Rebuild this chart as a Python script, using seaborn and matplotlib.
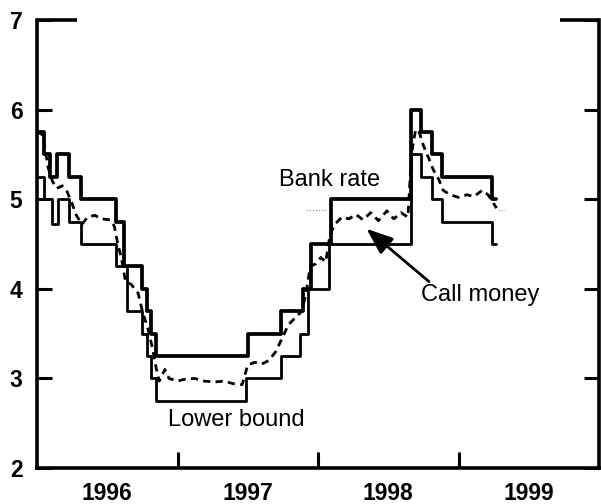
import numpy as np
import pandas as pd
import seaborn as sns
import matplotlib
matplotlib.use("Agg")
import matplotlib.pyplot as plt

# ---------------- data ----------------
# Bank rate (upper bound of corridor), step changes: (date as decimal year, level)
bank_dates = [1996.00, 1996.05, 1996.09, 1996.14, 1996.23, 1996.31, 1996.56, 1996.62,
              1996.75, 1996.78, 1996.81, 1996.85, 1997.50, 1997.74, 1997.89, 1997.95,
              1998.09, 1998.66, 1998.73, 1998.81, 1998.88, 1999.24, 1999.27]
bank_rate = [5.75, 5.50, 5.25, 5.50, 5.25, 5.00, 4.75, 4.25,
             4.00, 3.75, 3.50, 3.25, 3.50, 3.75, 4.00, 4.50,
             5.00, 6.00, 5.75, 5.50, 5.25, 5.00, 5.00]

# Lower bound of corridor
lower_dates = [1996.00, 1996.05, 1996.11, 1996.15, 1996.23, 1996.31, 1996.56, 1996.64,
               1996.75, 1996.78, 1996.81, 1996.85, 1997.49, 1997.74, 1997.87, 1997.93,
               1998.08, 1998.66, 1998.73, 1998.81, 1998.88, 1999.24, 1999.27]
lower_bound = [5.25, 5.00, 4.72, 5.00, 4.75, 4.50, 4.25, 3.75,
               3.50, 3.25, 3.00, 2.75, 3.00, 3.25, 3.50, 4.00,
               4.50, 5.50, 5.25, 5.00, 4.75, 4.50, 4.50]

# Call money rate
call_dates = [1996.00, 1996.04, 1996.08, 1996.11, 1996.14, 1996.18, 1996.21, 1996.25,
              1996.28, 1996.32, 1996.36, 1996.41, 1996.46, 1996.52, 1996.55, 1996.575,
              1996.60, 1996.63, 1996.67, 1996.72, 1996.75, 1996.79, 1996.82, 1996.85,
              1996.87, 1996.91, 1996.94, 1997.00, 1997.05, 1997.12, 1997.19, 1997.26,
              1997.33, 1997.40, 1997.46, 1997.50, 1997.55, 1997.60, 1997.65, 1997.70,
              1997.745, 1997.79, 1997.84, 1997.885, 1997.915, 1997.945, 1997.985, 1998.02,
              1998.055, 1998.085, 1998.12, 1998.17, 1998.22, 1998.27, 1998.32, 1998.375,
              1998.43, 1998.49, 1998.54, 1998.59, 1998.64, 1998.665, 1998.695, 1998.72,
              1998.75, 1998.79, 1998.82, 1998.86, 1998.89, 1998.94, 1999.00, 1999.06,
              1999.11, 1999.17, 1999.21, 1999.24, 1999.27]
call_money = [5.75, 5.72, 5.35, 5.20, 5.12, 5.15, 5.10, 4.95,
              4.82, 4.72, 4.80, 4.82, 4.78, 4.77, 4.70, 4.50,
              4.35, 4.08, 4.05, 3.95, 3.75, 3.55, 3.35, 3.10,
              2.97, 3.10, 3.00, 2.97, 2.99, 3.00, 2.97, 2.96,
              2.97, 2.94, 2.93, 3.15, 3.18, 3.16, 3.20, 3.30,
              3.45, 3.60, 3.68, 3.75, 3.95, 4.25, 4.28, 4.35,
              4.30, 4.60, 4.72, 4.80, 4.78, 4.83, 4.77, 4.85,
              4.76, 4.87, 4.78, 4.85, 4.80, 5.50, 5.78, 5.75,
              5.60, 5.45, 5.33, 5.22, 5.10, 5.05, 5.02, 5.05,
              5.03, 5.10, 5.05, 4.98, 4.90]

# faint dotted reference marks
ref_level = 4.88
ref_spans = [(1997.915, 1998.064), (1999.28, 1999.33)]

year_labels = ["1996", "1997", "1998", "1999"]
y_ticks = [2, 3, 4, 5, 6, 7]

df_bank = pd.DataFrame({"date": bank_dates, "rate": bank_rate})
df_low = pd.DataFrame({"date": lower_dates, "rate": lower_bound})
df_call = pd.DataFrame({"date": call_dates, "rate": call_money})

# ---------------- style ----------------
sns.set_style("white")
plt.rcParams["font.family"] = ["Liberation Sans", "DejaVu Sans"]
plt.rcParams["text.color"] = "black"
plt.rcParams["xtick.color"] = "black"
plt.rcParams["ytick.color"] = "black"

fig = plt.figure(figsize=(6.01, 5.04), dpi=100)
ax = fig.add_axes([37 / 601, 1 - 468 / 504, 562 / 601, 448 / 504])

sns.lineplot(data=df_bank, x="date", y="rate", ax=ax, color="black", lw=2.7,
             drawstyle="steps-post", estimator=None, sort=False)
sns.lineplot(data=df_low, x="date", y="rate", ax=ax, color="black", lw=2.0,
             drawstyle="steps-post", estimator=None, sort=False)
sns.lineplot(data=df_call, x="date", y="rate", ax=ax, color="black", lw=2.0,
             linestyle=(0, (2.6, 1.9)), estimator=None, sort=False)

for a, b in ref_spans:
    ax.hlines(ref_level, a, b, colors="#9a9a9a", linestyles=(0, (1, 1.5)), lw=0.9)

ax.set_xlim(1996, 2000)
ax.set_ylim(2, 7)
ax.set_xlabel("")
ax.set_ylabel("")

# spines
for s in ["left", "bottom", "right"]:
    ax.spines[s].set_linewidth(2.6)
    ax.spines[s].set_color("black")
ax.spines["top"].set_visible(False)
ax.plot([0, 0.072], [1, 1], transform=ax.transAxes, color="black", lw=2.6,
        clip_on=False, solid_capstyle="butt")
ax.plot([0.93, 1.0], [1, 1], transform=ax.transAxes, color="black", lw=2.6,
        clip_on=False, solid_capstyle="butt")

# y ticks
ax.set_yticks(y_ticks)
ax.set_yticklabels([str(v) for v in y_ticks])
ax.tick_params(axis="y", which="major", direction="in", length=10.5, width=2.2,
               left=True, right=True, labelleft=True, labelright=False,
               labelsize=16.5, pad=10.5, color="black", labelcolor="black")

# x ticks: year boundaries as major ticks, labels centred at mid-year
ax.set_xticks([1997, 1998, 1999])
ax.set_xticklabels([])
ax.set_xticks([1996.5, 1997.5, 1998.5, 1999.5], minor=True)
ax.set_xticklabels(year_labels, minor=True)
ax.tick_params(axis="x", which="major", direction="in", length=11.5, width=2.2,
               bottom=True, top=False, color="black")
ax.tick_params(axis="x", which="minor", length=0, labelsize=16.5, pad=10,
               labelcolor="black")

for lab in ax.get_xticklabels(minor=True) + ax.get_yticklabels():
    lab.set_fontweight("bold")

# annotations
ax.text(1998.085, 5.21, "Bank rate", ha="center", va="center", fontsize=17,
        color="black")
ax.text(1997.418, 2.54, "Lower bound", ha="center", va="center", fontsize=17,
        color="black")
ax.text(1999.156, 3.93, "Call money", ha="center", va="center", fontsize=17,
        color="black")
ax.annotate("", xy=(1998.345, 4.67), xytext=(1998.79, 4.08),
            arrowprops=dict(arrowstyle="-|>,head_length=0.9,head_width=0.35",
                            color="black", lw=2.0, mutation_scale=18,
                            shrinkA=0, shrinkB=0))

fig.savefig("out.png", dpi=100)
